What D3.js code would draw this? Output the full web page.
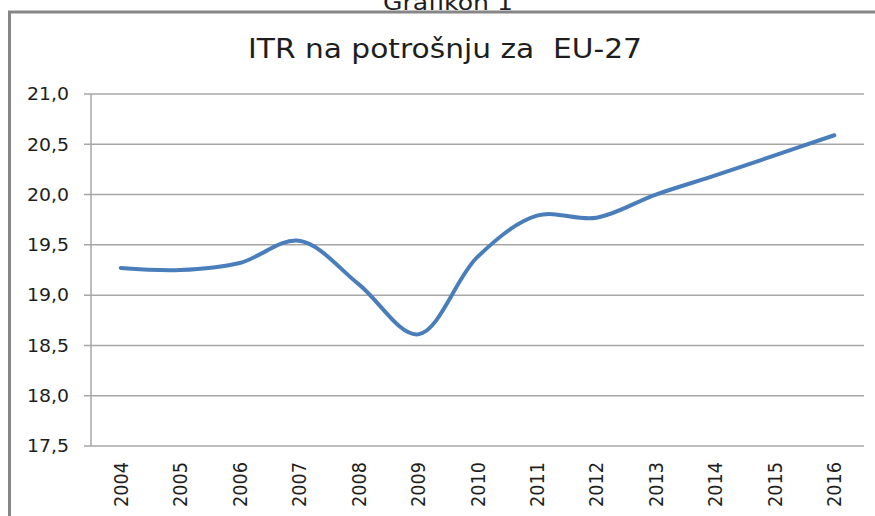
<!DOCTYPE html>
<html lang="hr">
<head>
<meta charset="UTF-8">
<script src="https://d3js.org/d3.v7.min.js"></script>
<title>ITR na potrošnju</title>
<style>
    body { margin: 0; background: #fff; }
    svg text { font-family: "DejaVu Sans", Verdana, sans-serif; fill: #1e1e1e; }
</style>
</head>
<body>
<div id="container"></div>
<script>
    // data
    const years = ["2004","2005","2006","2007","2008","2009","2010","2011","2012","2013","2014","2015","2016"];
    const itr = [19.27, 19.25, 19.32, 19.54, 19.11, 18.61, 19.38, 19.79, 19.77, 20.0, 20.19, 20.39, 20.59];
    const yTicks = [17.5, 18.0, 18.5, 19.0, 19.5, 20.0, 20.5, 21.0];

    const width = 875, height = 516;
    const plot = { left: 91, right: 864, top: 94, bottom: 446 };

    const svg = d3.select("#container").append("svg")
        .attr("width", width)
        .attr("height", height);

    // chart frame (cut off at right and bottom)
    svg.append("rect")
        .attr("x", 9.5).attr("y", 12)
        .attr("width", 900).attr("height", 600)
        .attr("fill", "none")
        .attr("stroke", "#868686")
        .attr("stroke-width", 3);

    // caption above frame, cut off at the top like in the original
    svg.append("text")
        .attr("x", 448).attr("y", 10)
        .attr("text-anchor", "middle")
        .attr("textLength", 130)
        .attr("lengthAdjust", "spacingAndGlyphs")
        .style("font-size", "22px")
        .text("Grafikon 1");

    svg.append("text")
        .attr("x", 445).attr("y", 58)
        .attr("text-anchor", "middle")
        .attr("textLength", 394)
        .attr("lengthAdjust", "spacingAndGlyphs")
        .style("font-size", "27px")
        .style("white-space", "pre")
        .text("ITR na potrošnju za  EU-27");

    const x = d3.scaleBand().domain(years).range([plot.left, plot.right]);
    const y = d3.scaleLinear().domain([17.5, 21.0]).range([plot.bottom, plot.top]);

    // gridlines
    svg.append("g")
        .selectAll("line")
        .data(yTicks)
        .join("line")
        .attr("x1", plot.left - 7).attr("x2", plot.right)
        .attr("y1", d => y(d)).attr("y2", d => y(d))
        .attr("stroke", "#a6a6a6")
        .attr("stroke-width", 1.5);

    // y axis line
    svg.append("line")
        .attr("x1", plot.left).attr("x2", plot.left)
        .attr("y1", plot.top).attr("y2", plot.bottom)
        .attr("stroke", "#a6a6a6")
        .attr("stroke-width", 1.5);

    // y labels
    const fmt = d => d3.format(".1f")(d).replace(".", ",");
    svg.append("g")
        .selectAll("text")
        .data(yTicks)
        .join("text")
        .attr("x", 69)
        .attr("y", d => y(d))
        .attr("dy", "0.35em")
        .attr("text-anchor", "end")
        .attr("textLength", 42)
        .attr("lengthAdjust", "spacingAndGlyphs")
        .style("font-size", "18px")
        .text(fmt);

    // x labels, rotated
    svg.append("g")
        .selectAll("text")
        .data(years)
        .join("text")
        .attr("transform", d => `translate(${x(d) + x.bandwidth() / 2 + 7},462) rotate(-90)`)
        .attr("text-anchor", "end")
        .attr("textLength", 45)
        .attr("lengthAdjust", "spacingAndGlyphs")
        .style("font-size", "19px")
        .text(d => d);

    // the line
    const line = d3.line()
        .x((d, i) => x(years[i]) + x.bandwidth() / 2)
        .y(d => y(d))
        .curve(d3.curveCatmullRom.alpha(0.5));

    svg.append("path")
        .datum(itr)
        .attr("d", line)
        .attr("fill", "none")
        .attr("stroke", "#4a7ebb")
        .attr("stroke-width", 4)
        .attr("stroke-linecap", "round");
</script>
</body>
</html>
